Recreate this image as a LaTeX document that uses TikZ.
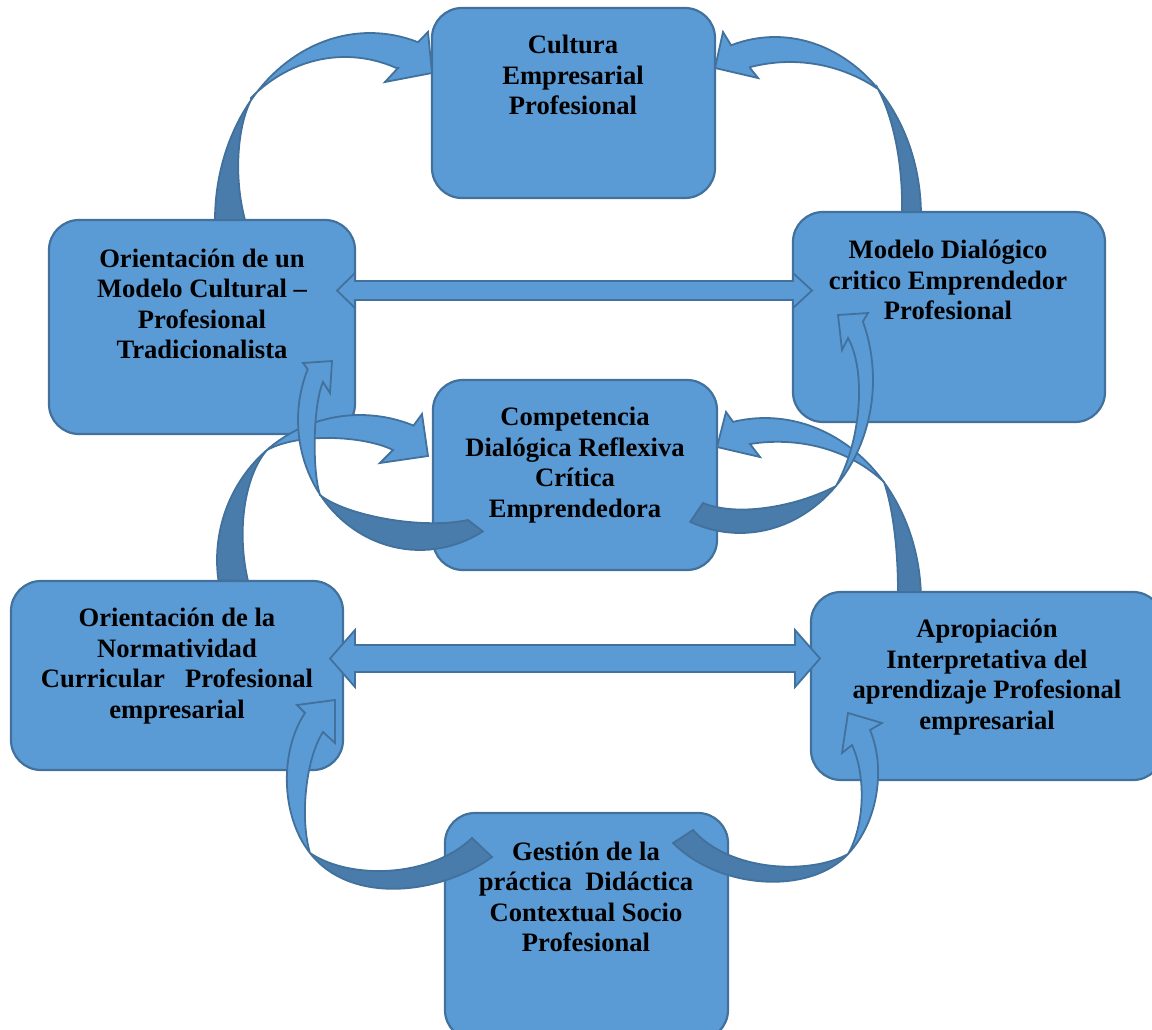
\documentclass[tikz,border=0pt]{standalone}
\usepackage{fontspec}
\setmainfont{Liberation Serif}
\definecolor{boxfill}{HTML}{5B9BD5}
\definecolor{edgeblue}{HTML}{41719C}
\definecolor{darkblue}{HTML}{497CAA}
% #1 outer edge tail->head base, #2 head, #3 light inner edge neck->P,
% #4 dark inner edge P->tail, #5 outside points closing the dark part, #6 point P
\newcommand\carrow[6]{%
  \fill[boxfill] #1 #2 #3 #4 -- cycle;
  \begin{scope}
    \clip #1 #2 #3 #4 -- cycle;
    \fill[darkblue] #6 #4 #5 -- cycle;
  \end{scope}
  \draw[aedge] #1 #2 #3 #4 -- cycle;
}
\begin{document}
\begin{tikzpicture}[x=0.5pt,y=-0.5pt,
  box/.style={draw=edgeblue, fill=boxfill, line width=1.1pt, rounded corners=15pt, inner sep=0pt, outer sep=0pt},
  lbl/.style={align=center, inner sep=0pt, font=\bfseries\fontsize{13.3}{15.25}\selectfont},
  alight/.style={fill=boxfill, draw=edgeblue, line width=0.9pt, line join=miter},
  aedge/.style={draw=edgeblue, line width=0.9pt, line join=miter},
  el/.style={samples=50, variable=\t}]
\useasboundingbox (0,0) rectangle (1152,1029);
\clip (0,0) rectangle (1152,1029);
% boxes
\node[box, minimum width=141.5pt, minimum height=95pt] (b1) at (573.5,103) {};
\node[box, minimum width=153pt, minimum height=107pt] (b2) at (202,327) {};
\node[box, minimum width=156pt, minimum height=105pt] (b3) at (949,317) {};
\node[box, minimum width=142pt, minimum height=95pt] (b4) at (575,475) {};
\node[box, minimum width=166pt, minimum height=94.5pt] (b5) at (177,675.5) {};
\node[box, minimum width=176pt, minimum height=94pt] (b6) at (987,686) {};
\node[box, minimum width=141.5pt, minimum height=113.5pt] (b7) at (586.5,926.5) {};
% double arrows
\filldraw[alight] (337,290.5) -- (355,273) -- (355,281) -- (793,281) -- (793,273) -- (812,290.5) -- (793,308) -- (793,300) -- (355,300) -- (355,308) -- cycle;
\filldraw[alight] (330,658.5) -- (355,630) -- (355,645) -- (795,645) -- (795,630) -- (820,658.5) -- (795,687) -- (795,672) -- (355,672) -- (355,687) -- cycle;
% arrow C (b5 -> b4)
\carrow{plot[el, domain=188:68] ({360+143*cos(\t)},{560-145*sin(\t)})}
  {-- (422,414) -- (428,456) -- (380,463) -- (393,450)}
  {.. controls (365,436) and (300,432) .. (267,450)}
  {.. controls (245,475) and (236,530) .. (248,581)}
  {-- (150,600) -- (200,430)}
  {(267,450)}
% arrow D (b6 -> b4)
\carrow{plot[el, domain=2.5:101.8] ({765+156*cos(\t)},{600-182*sin(\t)})}
  {-- (726,412) -- (717,447) -- (760,457) -- (750,444)}
  {.. controls (800,436) and (850,450) .. (884,482)}
  {.. controls (892,505) and (898,545) .. (898,592)}
  {-- (1000,600) -- (960,470)}
  {(884,482)}
% arrow E (b4 -> b2)
\carrow{plot[el, domain=-59:-203] ({420+122*cos(\t)},{420-130*sin(\t)})}
  {-- (303,363) -- (332,361) -- (330,393) -- (323,382)}
  {.. controls (313,405) and (312,470) .. (320,495)}
  {.. controls (345,515) and (420,530) .. (468,520)}
  {-- (500,545) -- (480,620) -- (280,520)}
  {(320,495)}
% arrow F (b4 -> b3)
\carrow{plot[el, domain=-112:22.5] ({740+133*cos(\t)},{380-153*sin(\t)})}
  {-- (868,313) -- (838,315) -- (842,350) -- (848,338)}
  {.. controls (866,370) and (862,440) .. (836,486)}
  {.. controls (800,505) and (740,518) .. (703,503)}
  {-- (680,490) -- (660,600) -- (920,540)}
  {(836,486)}
% arrow A (b2 -> b1)
\carrow{plot[el, domain=180:72] ({370+155*cos(\t)},{220-187*sin(\t)})}
  {-- (428,32) -- (432,73) -- (385,82) -- (398,68)}
  {-- plot[el, domain=69:131.5] ({345+142*cos(\t)},{220-163*sin(\t)}) -- (251,100)}
  {.. controls (238,125) and (233,175) .. (245,220)}
  {-- (150,230) -- (150,90)}
  {(251,100)}
% arrow B (b3 -> b1)
\carrow{plot[el, domain=1:107.5] ({775+146*cos(\t)},{215-178*sin(\t)})}
  {-- (723,32) -- (715,68) -- (758,78) -- (750,68)}
  {-- plot[el, domain=105:55.4] ({790+155*cos(\t)},{215-153*sin(\t)}) -- (878,89)}
  {.. controls (892,115) and (903,160) .. (902,212)}
  {-- (1000,230) -- (1000,80)}
  {(878,89)}
% arrow G (b7 -> b5)
\carrow{(492,857) .. controls (440,895) and (350,905) .. (310,853) .. controls (280,815) and (280,750) .. (305,713)}
  {-- (297,705) -- (335,700) -- (335,743) -- (323,732)}
  {.. controls (305,760) and (300,820) .. (310,853)}
  {.. controls (350,880) and (430,878) .. (472,838)}
  {-- (520,850) -- (450,950) -- (250,880)}
  {(310,853)}
% arrow H (b7 -> b6)
\carrow{(673,843) .. controls (720,890) and (810,895) .. (848,854) .. controls (880,820) and (885,765) .. (870,730)}
  {-- (882,723) -- (848,713) -- (842,753) -- (852,745)}
  {.. controls (866,775) and (865,825) .. (848,854)}
  {.. controls (810,875) and (730,872) .. (693,830)}
  {-- (700,800) -- (640,850) -- (750,960) -- (920,880)}
  {(848,854)}
% labels
\node[lbl] (t1) at (573,75) {Cultura\\Empresarial\\Profesional};
\node[lbl] (t2) at (202,304) {Orientación de un\\Modelo Cultural –\\Profesional\\Tradicionalista};
\node[lbl] (t3) at (948,280) {Modelo Dialógico\\critico Emprendedor\\Profesional};
\node[lbl] (t4) at (575,465) {Competencia\\Dialógica Reflexiva\\Crítica\\Emprendedora};
\node[lbl] (t5) at (177,666) {Orientación de la\\Normatividad\\Curricular\ \ \ Profesional\\empresarial};
\node[lbl] (t6) at (987,677) {Apropiación\\Interpretativa del\\aprendizaje Profesional\\empresarial};
\node[lbl] (t7) at (586,897) {Gestión de la\\práctica\ \ Didáctica\\Contextual Socio\\Profesional};
\end{tikzpicture}
\end{document}
